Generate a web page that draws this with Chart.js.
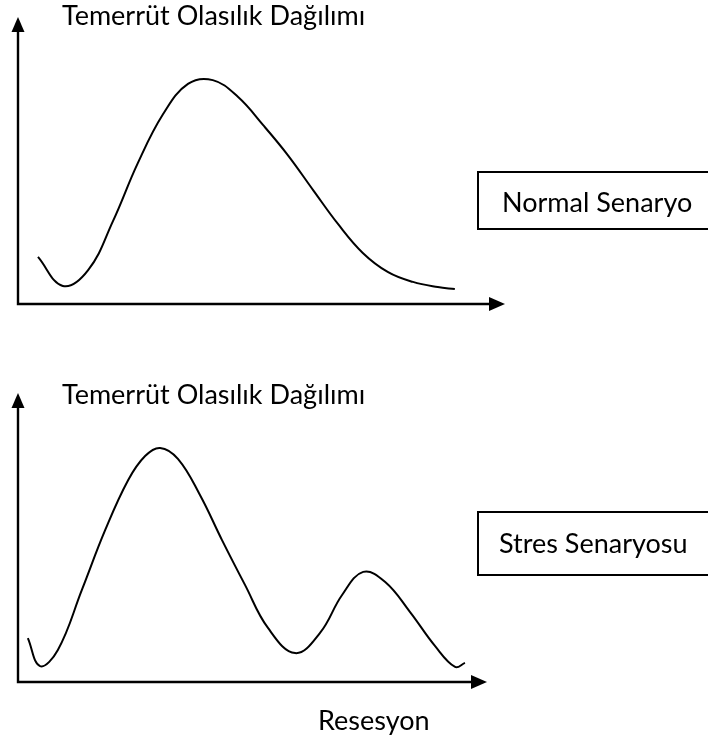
<!DOCTYPE html>
<html>
<head>
<meta charset="utf-8">
<script src="https://cdn.jsdelivr.net/npm/chart.js@4.4.1/dist/chart.umd.min.js"></script>
<style>
  body { margin: 0; background: #fff; width: 708px; height: 742px; overflow: hidden; position: relative; font-family: Lato, "Open Sans", sans-serif; color: #000; }
  canvas { position: absolute; left: 0; }
  .lbl { position: absolute; font-size: 27px; line-height: 27px; white-space: nowrap; }
  .box { position: absolute; left: 477px; width: 260px; border: 2px solid #000; box-sizing: border-box; }
</style>
</head>
<body>
<canvas id="normalChart" width="708" height="370" style="top:0"></canvas>
<canvas id="stressChart" width="708" height="372" style="top:370px"></canvas>

<div class="lbl" style="left:62px;top:1px">Temerrüt Olasılık Dağılımı</div>
<div class="box" style="top:171px;height:59px"></div>
<div class="lbl" style="left:502px;top:188px">Normal Senaryo</div>

<div class="lbl" style="left:62px;top:380px">Temerrüt Olasılık Dağılımı</div>
<div class="box" style="top:511px;height:65px"></div>
<div class="lbl" style="left:499px;top:529px">Stres Senaryosu</div>
<div class="lbl" style="left:318px;top:706px">Resesyon</div>

<script>
// normal scenario curve (x = recession, y = default probability, both 0-100)
var normalX = [4.1, 9.2, 14.4, 19.5, 24.6, 29.8, 34.9, 40.0, 45.2, 50.3, 55.4, 60.6, 65.7, 70.8, 76.0, 81.1, 86.2, 89.7];
var normalY = [16.4, 6.3, 11.8, 28.9, 49.1, 66.2, 76.7, 78.0, 72.1, 62.4, 51.9, 39.7, 27.9, 17.8, 11.1, 7.7, 5.9, 5.2];

// stress scenario curve, two humps
var stressX = [2.1, 4.7, 8.5, 13.6, 18.6, 23.5, 27.1, 30.3, 34.1, 38.8, 43.5, 48.4, 53.3, 59.1, 64.4, 69.1, 73.6, 78.3, 83.6, 88.9, 93.2, 95.3];
var stressY = [15.2, 5.5, 11.1, 31.8, 52.6, 69.9, 78.2, 81.0, 77.2, 64.7, 49.1, 33.6, 18.7, 10.0, 17.0, 30.1, 38.1, 34.6, 24.2, 12.5, 5.2, 6.6];

function toPoints(xs, ys) {
  var pts = [];
  for (var i = 0; i < xs.length; i++) {
    pts.push({ x: xs[i], y: ys[i] });
  }
  return pts;
}

// draws the two axis lines with arrow heads at the ends
var axisArrows = {
  id: 'axisArrows',
  afterDatasetsDraw: function(chart) {
    var ctx = chart.ctx, a = chart.chartArea;
    ctx.save();
    ctx.strokeStyle = '#000';
    ctx.fillStyle = '#000';
    ctx.lineWidth = 2.4;
    ctx.beginPath();
    ctx.moveTo(a.left, a.top + 12);
    ctx.lineTo(a.left, a.bottom);
    ctx.lineTo(a.right - 12, a.bottom);
    ctx.stroke();
    ctx.beginPath();
    ctx.moveTo(a.left, a.top);
    ctx.lineTo(a.left - 6.5, a.top + 15);
    ctx.lineTo(a.left + 6.5, a.top + 15);
    ctx.closePath();
    ctx.fill();
    ctx.beginPath();
    ctx.moveTo(a.right, a.bottom);
    ctx.lineTo(a.right - 16, a.bottom - 7);
    ctx.lineTo(a.right - 16, a.bottom + 7);
    ctx.closePath();
    ctx.fill();
    ctx.restore();
  }
};

function makeChart(id, xs, ys, pad) {
  return new Chart(document.getElementById(id).getContext('2d'), {
    type: 'line',
    data: {
      datasets: [{
        data: toPoints(xs, ys),
        borderColor: '#000',
        borderWidth: 2,
        pointRadius: 0,
        fill: false,
        tension: 0.4
      }]
    },
    options: {
      responsive: false,
      animation: false,
      layout: { padding: pad },
      plugins: { legend: { display: false }, tooltip: { enabled: false } },
      scales: {
        x: { type: 'linear', min: 0, max: 100, display: false },
        y: { min: 0, max: 100, display: false }
      }
    },
    plugins: [axisArrows]
  });
}

makeChart('normalChart', normalX, normalY, { left: 18, top: 17, right: 203, bottom: 66 });
makeChart('stressChart', stressX, stressY, { left: 18, top: 23, right: 221, bottom: 60 });
</script>
</body>
</html>
